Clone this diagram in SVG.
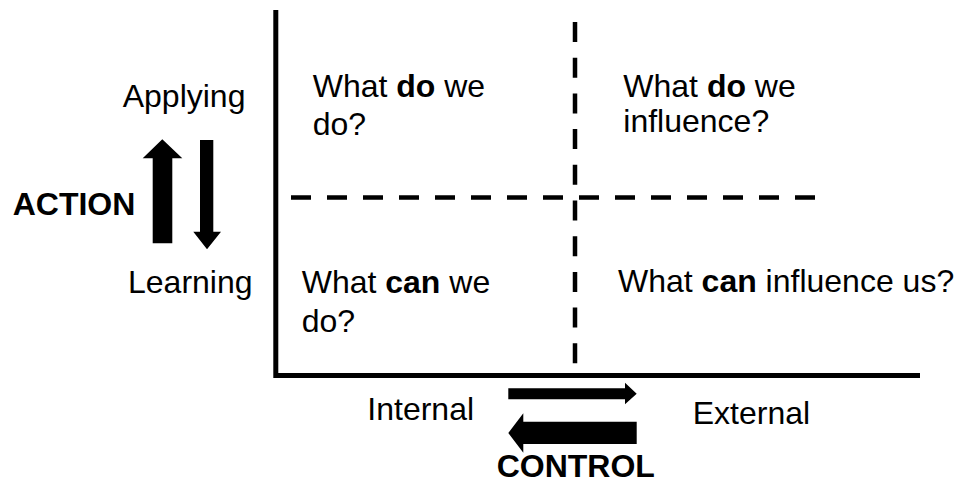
<svg xmlns="http://www.w3.org/2000/svg" width="968" height="485" viewBox="0 0 968 485">
  <style>
    text { font-family: "Liberation Sans", Arial, Helvetica, sans-serif; fill: #000; font-size: 32px; }
    .b { font-weight: bold; }
    .axis { stroke: #000; stroke-width: 5; fill: none; }
    .dash { stroke: #000; stroke-width: 4.5; fill: none; }
    .arrow { fill: #000; stroke: none; }
  </style>
  <rect width="968" height="485" fill="#fff"/>

  <g id="connectors">
    <!-- axes -->
    <path class="axis" d="M275.8 10 V375.5 H920"/>
    <!-- quadrant dividers -->
    <line class="dash" x1="575" y1="22" x2="575" y2="364" stroke-dasharray="20 15.7"/>
    <line class="dash" x1="291" y1="197.5" x2="815" y2="197.5" stroke-dasharray="20 16"/>
    <!-- action arrows -->
    <polygon class="arrow" points="152.7,243.3 152.7,158.3 142.7,158.3 162.3,139.3 182.3,158.3 172.3,158.3 172.3,243.3"/>
    <polygon class="arrow" points="200,140 213.3,140 213.3,231.7 221,231.7 207,249.3 193.3,231.7 200,231.7"/>
    <!-- control arrows -->
    <polygon class="arrow" points="508.3,388.3 625,388.3 625,382.7 636.7,393.7 625,404.3 625,399.3 508.3,399.3"/>
    <polygon class="arrow" points="636.7,421.7 523.3,421.7 523.3,413.3 508.3,433 523.3,452.7 523.3,444 636.7,444"/>
  </g>

  <g id="action-label">
    <text class="b" x="12.7" y="215" font-size="31">ACTION</text>
  </g>
  <g id="applying">
    <text x="122.7" y="106.7" font-size="31.5">Applying</text>
  </g>
  <g id="learning">
    <text x="128" y="293.3" font-size="31">Learning</text>
  </g>

  <g id="q-do-do">
    <text x="312.7" y="96.7">What <tspan class="b">do</tspan> we</text>
    <text x="312.7" y="135">do?</text>
  </g>
  <g id="q-do-influence">
    <text x="623.3" y="96.7">What <tspan class="b">do</tspan> we</text>
    <text x="623.3" y="132">influence?</text>
  </g>
  <g id="q-can-do">
    <text x="301.7" y="293.3">What <tspan class="b">can</tspan> we</text>
    <text x="301.7" y="331.7">do?</text>
  </g>
  <g id="q-can-influence">
    <text x="618" y="292.3">What <tspan class="b">can</tspan> influence us?</text>
  </g>

  <g id="internal">
    <text x="367.3" y="420">Internal</text>
  </g>
  <g id="external">
    <text x="692.7" y="424">External</text>
  </g>
  <g id="control-label">
    <text class="b" x="496.7" y="477">CONTROL</text>
  </g>
</svg>
